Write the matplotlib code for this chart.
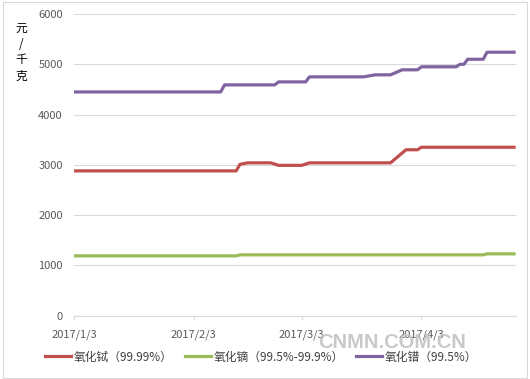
import matplotlib
matplotlib.use('Agg')
import matplotlib.pyplot as plt
import pandas as pd
from matplotlib.patches import Rectangle

plt.rcParams['font.family'] = ['Noto Sans CJK SC', 'DejaVu Sans']

# data: price change points (yuan/kg)
tb_dates = ['2017-01-03', '2017-02-14', '2017-02-15', '2017-02-17', '2017-02-23',
            '2017-02-25', '2017-03-03', '2017-03-05', '2017-03-26', '2017-03-30',
            '2017-04-02', '2017-04-03', '2017-04-27']
tb_values = [2880, 2880, 3010, 3040, 3040, 2990, 2990, 3040, 3040, 3300, 3300, 3350, 3350]

dy_dates = ['2017-01-03', '2017-02-14', '2017-02-15', '2017-04-19', '2017-04-20', '2017-04-27']
dy_values = [1190, 1190, 1210, 1210, 1230, 1230]

pr_dates = ['2017-01-03', '2017-02-10', '2017-02-11', '2017-02-24', '2017-02-25',
            '2017-03-04', '2017-03-05', '2017-03-19', '2017-03-22', '2017-03-26',
            '2017-03-29', '2017-04-02', '2017-04-03', '2017-04-12', '2017-04-13',
            '2017-04-14', '2017-04-15', '2017-04-19', '2017-04-20', '2017-04-27']
pr_values = [4450, 4450, 4590, 4590, 4650, 4650, 4750, 4750, 4790, 4790,
             4890, 4890, 4950, 4950, 5000, 5000, 5100, 5100, 5240, 5240]

series_names = ['氧化铽（99.99%）', '氧化镝（99.5%-99.9%）', '氧化镨（99.5%）']
series_colors = ['#c0504d', '#9bbb59', '#8064a2']

tick_dates = ['2017-01-03', '2017-02-03', '2017-03-03', '2017-04-03']
tick_labels = ['2017/1/3', '2017/2/3', '2017/3/3', '2017/4/3']
y_ticks = [0, 1000, 2000, 3000, 4000, 5000, 6000]

fig = plt.figure(figsize=(5.30, 3.79), dpi=100)
ax = fig.add_axes([74 / 530, 1 - 315.7 / 379, (516 - 74) / 530, (315.7 - 14) / 379])

lines = []
for d, v, c in zip([tb_dates, dy_dates, pr_dates], [tb_values, dy_values, pr_values], series_colors):
    ln, = ax.plot(pd.to_datetime(d), v, color=c, lw=2.3, solid_joinstyle='round', zorder=3)
    lines.append(ln)

ax.set_ylim(0, 6000)
ax.set_yticks(y_ticks)
ax.set_xlim(pd.Timestamp('2017-01-03'), pd.Timestamp('2017-04-27') + pd.Timedelta(hours=12))
ax.set_xticks(pd.to_datetime(tick_dates))
ax.set_xticklabels(tick_labels)

ax.grid(axis='y', color='#d9d9d9', lw=0.8, zorder=0)
for s in ['top', 'right', 'left']:
    ax.spines[s].set_visible(False)
ax.spines['bottom'].set_color('#d9d9d9')
ax.spines['bottom'].set_linewidth(0.8)
ax.tick_params(axis='y', length=0, pad=8, labelsize=8, labelcolor='#595959')
ax.tick_params(axis='x', length=3, width=0.8, color='#d9d9d9', pad=7, labelsize=8, labelcolor='#595959')

fig.text(21 / 530, 1 - 52 / 379, '元\n/\n千\n克', ha='center', va='center', fontsize=8.5,
         linespacing=1.3, color='#000000')

fig.legend(lines, series_names, loc='center', bbox_to_anchor=(261 / 530, 1 - 357 / 379),
           ncol=3, frameon=False, fontsize=8.5, handlelength=2.2, handletextpad=0.2,
           columnspacing=1.05, labelcolor='#404040')

fig.text(392 / 530, 1 - 342 / 379, 'CNMN.COM.CN', ha='center', va='center', fontsize=14.5,
         fontweight='bold', family='Liberation Sans', color='#c4c4c4', alpha=0.9)

fig.patches.append(Rectangle((3 / 530, 1 / 379), 524 / 530, 376 / 379, transform=fig.transFigure,
                             fill=False, edgecolor='#d9d9d9', lw=0.8))

fig.savefig('out.png', dpi=100)
